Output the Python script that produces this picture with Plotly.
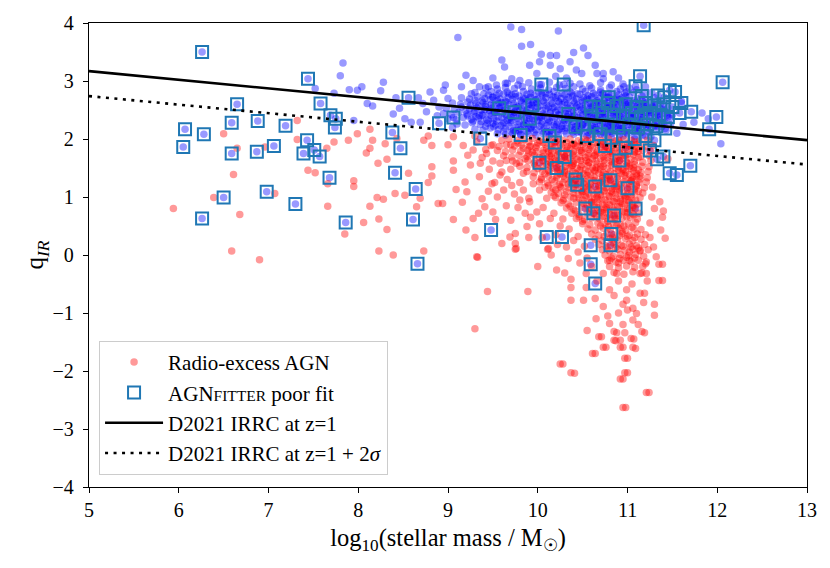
import plotly.graph_objects as go

# Radio-excess AGN (red), dense core read row by row, then extra layers for the saturated part
red_core = [
    (9.6,1.98),(9.68,2.0),(9.77,1.97),(9.85,1.99),(9.94,2.01),(10.02,1.97),(10.11,1.99),(10.19,2.01),(10.28,1.98),(10.36,2.0),(10.45,1.97),(10.53,1.99),(10.62,2.01),(10.7,1.98),(10.79,2.0),(10.87,1.97),(10.96,1.99),(11.04,1.98),(11.13,1.96),(11.22,1.98),
    (9.48,1.89),(9.57,1.87),(9.65,1.9),(9.74,1.88),(9.82,1.9),(9.91,1.87),(9.99,1.89),(10.08,1.91),(10.16,1.88),(10.25,1.9),(10.33,1.87),(10.42,1.89),(10.5,1.91),(10.59,1.88),(10.67,1.9),(10.76,1.87),(10.84,1.89),(10.93,1.91),(11.01,1.88),(11.1,1.9),(11.19,1.87),(11.29,1.89),
    (9.55,1.8),(9.64,1.78),(9.72,1.81),(9.81,1.79),(9.89,1.81),(9.98,1.78),(10.06,1.8),(10.15,1.82),(10.23,1.79),(10.32,1.81),(10.4,1.78),(10.49,1.8),(10.57,1.82),(10.66,1.79),(10.74,1.81),(10.83,1.78),(10.91,1.8),(11.0,1.82),(11.08,1.79),(11.17,1.81),(11.26,1.78),
    (9.62,1.71),(9.71,1.69),(9.79,1.72),(9.88,1.7),(9.96,1.72),(10.05,1.69),(10.13,1.71),(10.22,1.73),(10.3,1.7),(10.39,1.72),(10.47,1.69),(10.56,1.71),(10.64,1.73),(10.73,1.7),(10.81,1.72),(10.9,1.69),(10.98,1.71),(11.07,1.73),(11.15,1.7),(11.24,1.71),
    (9.72,1.62),(9.8,1.6),(9.89,1.63),(9.97,1.61),(10.06,1.63),(10.14,1.6),(10.23,1.62),(10.31,1.64),(10.4,1.61),(10.48,1.63),(10.57,1.6),(10.65,1.62),(10.74,1.64),(10.82,1.61),(10.91,1.63),(10.99,1.6),(11.08,1.62),(11.17,1.6),(11.26,1.63),
    (9.8,1.53),(9.88,1.51),(9.97,1.54),(10.05,1.52),(10.14,1.54),(10.22,1.51),(10.31,1.53),(10.39,1.55),(10.48,1.52),(10.56,1.54),(10.65,1.51),(10.73,1.53),(10.82,1.55),(10.9,1.52),(10.99,1.54),(11.07,1.51),(11.16,1.53),(11.24,1.52),
    (9.88,1.44),(9.96,1.42),(10.05,1.45),(10.13,1.43),(10.22,1.45),(10.3,1.42),(10.39,1.44),(10.47,1.46),(10.56,1.43),(10.64,1.45),(10.73,1.42),(10.81,1.44),(10.9,1.46),(10.98,1.43),(11.07,1.45),(11.15,1.42),(11.23,1.44),
    (9.95,1.35),(10.04,1.33),(10.12,1.36),(10.21,1.34),(10.29,1.36),(10.38,1.33),(10.46,1.35),(10.55,1.37),(10.63,1.34),(10.72,1.36),(10.8,1.33),(10.89,1.35),(10.97,1.37),(11.06,1.34),(11.14,1.36),(11.22,1.33),
    (10.02,1.26),(10.11,1.24),(10.19,1.27),(10.28,1.25),(10.36,1.27),(10.45,1.24),(10.53,1.26),(10.62,1.28),(10.7,1.25),(10.79,1.27),(10.87,1.24),(10.96,1.26),(11.04,1.28),(11.13,1.25),(11.21,1.26),
    (10.08,1.17),(10.17,1.15),(10.25,1.18),(10.34,1.16),(10.42,1.18),(10.51,1.15),(10.59,1.17),(10.68,1.19),(10.76,1.16),(10.85,1.18),(10.93,1.15),(11.02,1.17),(11.1,1.19),(11.19,1.16),
    (10.15,1.08),(10.23,1.06),(10.32,1.09),(10.4,1.07),(10.49,1.09),(10.57,1.06),(10.66,1.08),(10.74,1.1),(10.83,1.07),(10.91,1.09),(11.0,1.06),(11.08,1.08),(11.17,1.07),
    (10.2,0.99),(10.29,0.97),(10.37,1.0),(10.46,0.98),(10.54,1.0),(10.63,0.97),(10.71,0.99),(10.8,1.01),(10.88,0.98),(10.97,1.0),(11.05,0.97),(11.14,0.99),
    (10.26,0.9),(10.34,0.88),(10.43,0.91),(10.51,0.89),(10.6,0.91),(10.68,0.88),(10.77,0.9),(10.85,0.92),(10.94,0.89),(11.02,0.91),(11.11,0.88),
    (10.32,0.81),(10.4,0.79),(10.49,0.82),(10.57,0.8),(10.66,0.82),(10.74,0.79),(10.83,0.81),(10.91,0.83),(11.0,0.8),(11.08,0.82),
    (10.38,0.72),(10.46,0.7),(10.55,0.73),(10.63,0.71),(10.72,0.73),(10.8,0.7),(10.89,0.72),(10.97,0.74),(11.06,0.71),(11.13,0.72),
    (10.43,0.63),(10.52,0.61),(10.6,0.64),(10.69,0.62),(10.77,0.64),(10.86,0.61),(10.94,0.63),(11.03,0.65),(11.11,0.62),
    (10.5,0.54),(10.58,0.52),(10.67,0.55),(10.75,0.53),(10.84,0.55),(10.92,0.52),(11.01,0.54),(11.09,0.56),
    (10.56,0.45),(10.64,0.43),(10.73,0.46),(10.81,0.44),(10.9,0.46),(10.98,0.43),(11.07,0.45),(11.15,0.44),
    (10.6,0.36),(10.68,0.34),(10.77,0.37),(10.85,0.35),(10.94,0.37),(11.02,0.34),(11.11,0.36),(11.2,0.35),
    (10.64,0.27),(10.72,0.25),(10.81,0.28),(10.89,0.26),(10.98,0.28),(11.06,0.25),(11.15,0.27),
    (10.68,0.18),(10.76,0.16),(10.85,0.19),(10.93,0.17),(11.02,0.19),(11.1,0.16),(11.19,0.18),
    (10.72,0.09),(10.8,0.07),(10.89,0.1),(10.97,0.08),(11.06,0.1),(11.14,0.07),(11.23,0.09),
    (10.75,0.0),(10.84,-0.02),(10.92,0.01),(11.01,-0.01),(11.09,0.01),(11.18,-0.02),
    (10.78,-0.1),(10.87,-0.12),(10.95,-0.09),(11.04,-0.11),(11.12,-0.09),(11.21,-0.12),
    (10.8,-0.2),(10.9,-0.22),(10.99,-0.19),(11.08,-0.21),(11.17,-0.2),
    (10.85,-0.3),(10.96,-0.33),(11.06,-0.29),(11.16,-0.31),
]
red_core_2 = [
    (10.06,1.94),(10.15,1.93),(10.23,1.95),(10.32,1.94),(10.4,1.92),(10.49,1.95),(10.57,1.93),(10.66,1.94),(10.74,1.95),(10.83,1.93),(10.91,1.94),(11.0,1.92),(11.08,1.95),
    (9.98,1.85),(10.1,1.84),(10.19,1.86),(10.27,1.85),(10.36,1.83),(10.44,1.86),(10.53,1.84),(10.61,1.85),(10.7,1.86),(10.78,1.84),(10.87,1.85),(10.95,1.83),(11.04,1.86),(11.12,1.84),
    (10.06,1.76),(10.15,1.75),(10.23,1.77),(10.32,1.76),(10.4,1.74),(10.49,1.77),(10.57,1.75),(10.66,1.76),(10.74,1.77),(10.83,1.75),(10.91,1.76),(11.0,1.74),(11.08,1.77),
    (10.1,1.67),(10.19,1.66),(10.27,1.68),(10.36,1.67),(10.44,1.65),(10.53,1.68),(10.61,1.66),(10.7,1.67),(10.78,1.68),(10.87,1.66),(10.95,1.67),(11.04,1.65),(11.12,1.68),
    (10.15,1.58),(10.23,1.57),(10.32,1.59),(10.4,1.58),(10.49,1.56),(10.57,1.59),(10.66,1.57),(10.74,1.58),(10.83,1.59),(10.91,1.57),(11.0,1.58),(11.08,1.56),
    (10.19,1.49),(10.27,1.48),(10.36,1.5),(10.44,1.49),(10.53,1.47),(10.61,1.5),(10.7,1.48),(10.78,1.49),(10.87,1.5),(10.95,1.48),(11.04,1.49),(11.12,1.47),
    (10.25,1.4),(10.34,1.39),(10.42,1.41),(10.51,1.4),(10.59,1.38),(10.68,1.41),(10.76,1.39),(10.85,1.4),(10.93,1.41),(11.02,1.39),(11.1,1.4),
    (10.3,1.31),(10.38,1.3),(10.47,1.32),(10.55,1.31),(10.64,1.29),(10.72,1.32),(10.81,1.3),(10.89,1.31),(10.98,1.32),(11.06,1.3),(11.14,1.31),
    (10.34,1.22),(10.42,1.21),(10.51,1.23),(10.59,1.22),(10.68,1.2),(10.76,1.23),(10.85,1.21),(10.93,1.22),(11.02,1.23),(11.1,1.21),
    (10.4,1.13),(10.49,1.12),(10.57,1.14),(10.66,1.13),(10.74,1.11),(10.83,1.14),(10.91,1.12),(11.0,1.13),(11.08,1.14),
    (10.45,1.04),(10.53,1.03),(10.62,1.05),(10.7,1.04),(10.79,1.02),(10.87,1.05),(10.96,1.03),(11.04,1.04),
    (10.5,0.95),(10.58,0.94),(10.67,0.96),(10.75,0.95),(10.84,0.93),(10.92,0.96),(11.01,0.94),(11.09,0.95),
    (10.55,0.86),(10.63,0.85),(10.72,0.87),(10.8,0.86),(10.89,0.84),(10.97,0.87),(11.06,0.85),
    (10.6,0.77),(10.68,0.76),(10.77,0.78),(10.85,0.77),(10.94,0.75),(11.02,0.78),
    (10.65,0.68),(10.73,0.67),(10.82,0.69),(10.9,0.68),(10.99,0.66),(11.07,0.69),
    (10.7,0.5),(10.79,0.49),(10.88,0.51),(10.96,0.5),(11.05,0.48),
    (10.74,0.32),(10.83,0.31),(10.91,0.33),(11.0,0.32),(11.08,0.3),
    (10.78,0.14),(10.87,0.13),(10.95,0.15),(11.04,0.14),(11.12,0.12),
    (10.82,-0.05),(10.91,-0.06),(10.99,-0.04),(11.08,-0.05),
]
red_core_3 = [
    (10.2,1.96),(10.38,1.9),(10.55,1.97),(10.72,1.91),(10.9,1.98),(11.05,1.9),
    (10.12,1.79),(10.3,1.72),(10.47,1.8),(10.63,1.71),(10.8,1.79),(10.97,1.72),(11.12,1.79),
    (10.2,1.62),(10.38,1.54),(10.54,1.63),(10.7,1.53),(10.86,1.62),(11.02,1.53),
    (10.3,1.45),(10.47,1.37),(10.63,1.46),(10.79,1.36),(10.95,1.45),(11.1,1.36),
    (10.4,1.27),(10.56,1.18),(10.72,1.28),(10.88,1.18),(11.04,1.27),
    (10.5,1.09),(10.66,1.0),(10.82,1.1),(10.98,1.0),(11.12,1.1),
    (10.6,0.91),(10.76,0.82),(10.92,0.92),(11.06,0.82),
    (10.7,0.74),(10.86,0.64),(11.0,0.73),
    (10.78,0.58),(10.94,0.4),(10.84,0.22),(11.02,0.05),(10.9,-0.14),
]
red_core_4 = [
    (9.78,1.93),(9.9,1.95),(9.84,1.84),(9.94,1.77),(9.86,1.66),(9.96,1.58),(10.02,1.68),(10.0,1.49),
    (10.08,1.4),(10.1,1.56),(10.04,1.3),(10.16,1.3),(10.12,1.2),(10.2,1.12),(10.24,1.22),(10.18,1.02),
    (10.28,0.94),(10.3,1.04),(10.36,0.84),(10.42,0.76),(10.4,0.98),(10.46,0.66),(10.5,0.58),(10.26,1.16),
    (10.12,1.46),(10.22,1.38),(10.05,1.62),(10.15,1.7),(9.92,1.88),(10.0,1.93),
]
red_left = [
    (9.32,1.95),(9.42,1.82),(9.38,1.68),(9.5,1.62),(9.46,1.48),(9.58,1.38),(9.52,1.25),(9.66,1.3),(9.62,1.12),
    (9.74,1.05),(9.8,1.25),(9.7,1.48),(9.84,1.12),(9.9,0.98),(9.78,0.82),(9.92,0.65),(10.06,0.82),(10.1,0.98),
    (10.18,0.72),(10.28,0.62),(10.35,0.45),(10.22,0.18),(10.45,0.32),(10.52,0.15),(9.25,1.55),(9.22,1.72),
]
red_sparse = [
    (7.32,2.32),(6.50,2.09),(6.65,1.84),(6.61,1.39),(6.96,1.86),(7.44,1.46),(7.52,1.42),(7.65,1.84),(7.73,1.95),(7.89,1.98),
    (7.99,2.09),(8.13,2.17),(8.16,1.98),(8.13,1.84),(8.09,1.76),(8.22,1.58),(8.32,1.65),(8.30,1.92),(7.95,1.28),(7.95,1.18),
    (7.66,1.23),(7.07,1.06),(6.39,0.99),(5.94,0.80),(6.68,0.70),(7.66,0.84),(8.13,0.84),(8.21,0.99),(8.28,0.96),(8.41,1.06),
    (8.52,1.03),(8.56,1.41),(8.65,0.83),(8.06,0.56),(8.23,0.62),(8.32,0.44),(7.85,0.36),(6.59,0.07),(6.90,-0.08),(8.23,0.07),
    (8.39,0.00),(8.73,0.07),(8.82,1.52),(8.82,1.36),(8.78,1.25),(8.89,0.89),(8.69,0.98),(8.73,1.98),(8.78,2.05),(8.82,1.89),
    (8.43,2.01),(7.32,1.99),
    (9.33,-0.04),(9.44,-0.63),(9.89,-0.63),(9.30,-1.27),(9.75,0.20),(9.75,0.10),(10.11,0.10),(10.15,0.00),(10.21,-0.26),(10.30,-0.31),
    (10.37,-0.42),(10.37,-0.56),(10.37,-0.78),(10.51,-0.78),(10.64,-0.75),(10.54,-0.56),(10.73,-0.89),(10.68,-1.41),(10.61,-1.70),(10.73,-1.59),
    (10.25,-1.88),(10.37,-2.03),(10.85,-1.32),(10.85,-1.47),(10.90,-1.00),(10.80,-1.18),(10.92,-1.47),(10.92,-1.59),(11.04,-1.44),(11.06,-1.59),
    (10.97,-1.78),(10.97,-2.03),(10.92,-2.14),(11.21,-2.37),(10.95,-2.63),(11.16,-1.32),(11.30,-0.85),(11.30,-1.04),(11.18,-0.82),(11.06,-1.12),
    (11.10,-1.01),(11.14,-0.66),(11.19,-0.66),(11.35,-0.44),(11.35,-0.16),(11.32,-0.03),(10.99,-0.78),(11.06,-0.92),(10.80,-0.60),(10.99,-0.60),
    (10.88,-0.32),(11.14,-0.32),(11.21,-0.32),(10.73,-0.32),(10.80,-0.09),(11.02,-0.09),(11.14,0.08),(11.29,0.14),(10.47,-0.14),(10.54,-0.32),
    (10.71,-1.41),(10.88,-1.34),(10.97,-1.34),(11.19,-1.34),(10.87,-1.48),(10.76,-1.59),(10.95,-1.59),(11.07,-1.45),(11.09,-1.61),(10.64,-1.70),
    (11.00,-1.78),(10.28,-1.88),(10.41,-2.04),(11.00,-2.03),(10.95,-2.14),(11.24,-2.37),(10.98,-2.63),
    (11.36,0.92),(11.40,0.76),(11.39,0.65),(11.37,0.43),(11.42,0.29),(11.39,-0.16),(11.39,-0.44),(11.28,1.17),(11.27,1.00),(11.45,1.66),
    (9.06,2.04),(9.06,1.62),(9.06,1.46),(9.19,1.26),(9.09,1.13),(9.21,1.09),(8.94,0.89),(9.16,0.91),(9.06,0.61),(9.20,0.43),
    (9.30,0.30),(9.32,-0.03),(9.38,0.97),(9.41,0.83),(9.34,0.72),(9.28,0.63),(9.50,0.74),(9.53,0.61),(9.49,1.23),(9.60,1.43),
    (9.58,1.58),(9.36,1.58),(9.28,1.81),(9.17,1.89),(9.43,1.75),(9.65,1.63),(9.71,1.20),(9.80,0.95),(9.75,0.37),(9.69,0.31),
    (9.76,0.11),(9.88,0.49),(9.86,0.72),(9.99,0.74),(9.91,0.92),(10.02,0.54),(10.14,0.63),(10.12,0.11),(10.32,0.14),(10.34,-0.06),
    (9.84,1.41),(9.76,1.58),(9.95,1.23),(10.02,1.12),(9.90,1.75),
    (10.2,0.35),(10.25,0.5),(10.4,0.25),(10.45,0.05),(10.55,-0.05),(10.6,-0.2),(10.66,-0.45),(10.9,-0.45),(11.05,-0.5),(11.2,-0.15),
    (11.25,0.3),(11.25,0.55),(11.3,0.8),(11.22,-0.45),(10.95,-0.85),(10.85,-0.7),(10.78,-1.05),(11.12,-1.2),(10.65,-1.1),(10.55,-1.3),
    (10.95,-1.2),(11.0,-0.95),(9.6,0.2),(9.9,0.3),(10.05,0.3),(10.0,-0.2),(9.55,1.0),(9.65,0.85),(9.7,0.6),(9.45,1.1),
    (9.35,1.35),(9.5,1.9),(9.7,1.9),(9.3,2.05),(9.0,1.9),
]

# remaining sources (blue, no legend entry)
blue_core = [
    (9.66,2.96),(9.78,2.93),(9.9,2.97),(10.02,2.94),(10.13,2.98),(10.24,2.93),(10.36,2.96),(10.47,2.95),(10.58,2.92),(10.7,2.97),(10.82,2.93),
    (9.42,2.88),(9.55,2.86),(9.64,2.89),(9.74,2.87),(9.83,2.9),(9.93,2.86),(10.03,2.88),(10.12,2.85),(10.21,2.89),(10.31,2.87),(10.4,2.9),(10.5,2.86),(10.6,2.88),(10.7,2.85),(10.8,2.89),(10.92,2.86),(11.02,2.88),
    (9.3,2.8),(9.4,2.78),(9.48,2.82),(9.57,2.79),(9.66,2.81),(9.75,2.78),(9.84,2.82),(9.92,2.79),(10.01,2.81),(10.09,2.78),(10.18,2.82),(10.27,2.79),(10.36,2.81),(10.44,2.78),(10.53,2.82),(10.62,2.79),(10.7,2.81),(10.79,2.78),(10.88,2.82),(10.97,2.79),(11.07,2.8),(11.18,2.78),
    (9.15,2.71),(9.24,2.69),(9.33,2.73),(9.41,2.7),(9.5,2.72),(9.58,2.69),(9.67,2.71),(9.75,2.73),(9.84,2.7),(9.92,2.72),(10.0,2.69),(10.09,2.71),(10.17,2.73),(10.26,2.7),(10.34,2.72),(10.43,2.69),(10.51,2.71),(10.6,2.73),(10.68,2.7),(10.77,2.72),(10.85,2.69),(10.94,2.71),(11.02,2.73),(11.11,2.7),(11.2,2.68),(11.3,2.71),
    (9.05,2.62),(9.14,2.6),(9.22,2.64),(9.31,2.61),(9.39,2.63),(9.48,2.6),(9.56,2.62),(9.65,2.64),(9.73,2.61),(9.82,2.63),(9.9,2.6),(9.99,2.62),(10.07,2.64),(10.16,2.61),(10.24,2.63),(10.33,2.6),(10.41,2.62),(10.5,2.64),(10.58,2.61),(10.67,2.63),(10.75,2.6),(10.84,2.62),(10.92,2.64),(11.01,2.61),(11.09,2.63),(11.18,2.6),(11.27,2.62),(11.37,2.61),
    (8.98,2.53),(9.07,2.51),(9.15,2.55),(9.24,2.52),(9.32,2.54),(9.41,2.51),(9.49,2.53),(9.58,2.55),(9.66,2.52),(9.75,2.54),(9.83,2.51),(9.92,2.53),(10.0,2.55),(10.09,2.52),(10.17,2.54),(10.26,2.51),(10.34,2.53),(10.43,2.55),(10.51,2.52),(10.6,2.54),(10.68,2.51),(10.77,2.53),(10.85,2.55),(10.94,2.52),(11.02,2.54),(11.11,2.51),(11.19,2.53),(11.28,2.55),(11.37,2.52),(11.45,2.54),
    (8.95,2.44),(9.04,2.42),(9.12,2.46),(9.21,2.43),(9.29,2.45),(9.38,2.42),(9.46,2.44),(9.55,2.46),(9.63,2.43),(9.72,2.45),(9.8,2.42),(9.89,2.44),(9.97,2.46),(10.06,2.43),(10.14,2.45),(10.23,2.42),(10.31,2.44),(10.4,2.46),(10.48,2.43),(10.57,2.45),(10.65,2.42),(10.74,2.44),(10.82,2.46),(10.91,2.43),(10.99,2.45),(11.08,2.42),(11.16,2.44),(11.25,2.46),(11.33,2.43),(11.42,2.45),(11.5,2.42),
    (9.0,2.35),(9.09,2.33),(9.17,2.37),(9.26,2.34),(9.34,2.36),(9.43,2.33),(9.51,2.35),(9.6,2.37),(9.68,2.34),(9.77,2.36),(9.85,2.33),(9.94,2.35),(10.02,2.37),(10.11,2.34),(10.19,2.36),(10.28,2.33),(10.36,2.35),(10.45,2.37),(10.53,2.34),(10.62,2.36),(10.7,2.33),(10.79,2.35),(10.87,2.37),(10.96,2.34),(11.04,2.36),(11.13,2.33),(11.21,2.35),(11.3,2.37),(11.38,2.34),(11.47,2.36),
    (9.1,2.26),(9.19,2.24),(9.27,2.28),(9.36,2.25),(9.44,2.27),(9.53,2.24),(9.61,2.26),(9.7,2.28),(9.78,2.25),(9.87,2.27),(9.95,2.24),(10.04,2.26),(10.12,2.28),(10.21,2.25),(10.29,2.27),(10.38,2.24),(10.46,2.26),(10.55,2.28),(10.63,2.25),(10.72,2.27),(10.8,2.24),(10.89,2.26),(10.97,2.28),(11.06,2.25),(11.14,2.27),(11.23,2.24),(11.31,2.26),(11.4,2.28),(11.48,2.25),
    (9.3,2.17),(9.39,2.15),(9.47,2.19),(9.56,2.16),(9.64,2.18),(9.73,2.15),(9.81,2.17),(9.9,2.19),(9.98,2.16),(10.07,2.18),(10.15,2.15),(10.24,2.17),(10.32,2.19),(10.41,2.16),(10.49,2.18),(10.58,2.15),(10.66,2.17),(10.75,2.19),(10.83,2.16),(10.92,2.18),(11.0,2.15),(11.09,2.17),(11.17,2.19),(11.26,2.16),(11.34,2.18),(11.43,2.15),
    (9.55,2.09),(9.64,2.07),(9.72,2.1),(9.81,2.08),(9.89,2.1),(9.98,2.07),(10.06,2.09),(10.15,2.1),(10.23,2.07),(10.32,2.09),(10.4,2.08),(10.49,2.1),(10.57,2.07),(10.66,2.09),(10.74,2.08),(10.83,2.1),(10.91,2.07),(11.0,2.09),(11.08,2.05),(11.17,2.07),(11.26,2.04),
]
blue_core_2 = [
    (9.45,2.76),(9.54,2.75),(9.62,2.77),(9.71,2.76),(9.79,2.74),(9.88,2.77),(9.96,2.75),(10.05,2.76),(10.13,2.77),(10.22,2.75),(10.3,2.76),(10.39,2.74),(10.47,2.77),(10.56,2.75),(10.64,2.76),(10.73,2.77),(10.81,2.75),(10.9,2.76),(10.98,2.74),
    (9.3,2.67),(9.38,2.66),(9.47,2.68),(9.55,2.67),(9.64,2.65),(9.72,2.68),(9.81,2.66),(9.89,2.67),(9.98,2.68),(10.06,2.66),(10.15,2.67),(10.23,2.65),(10.32,2.68),(10.4,2.66),(10.49,2.67),(10.57,2.68),(10.66,2.66),(10.74,2.67),(10.83,2.65),(10.91,2.68),(11.0,2.66),(11.08,2.67),(11.17,2.65),
    (9.25,2.58),(9.34,2.57),(9.42,2.59),(9.51,2.58),(9.59,2.56),(9.68,2.59),(9.76,2.57),(9.85,2.58),(9.93,2.59),(10.02,2.57),(10.1,2.58),(10.19,2.56),(10.27,2.59),(10.36,2.57),(10.44,2.58),(10.53,2.59),(10.61,2.57),(10.7,2.58),(10.78,2.56),(10.87,2.59),(10.95,2.57),(11.04,2.58),(11.12,2.59),(11.21,2.57),(11.3,2.58),
    (9.2,2.49),(9.29,2.48),(9.37,2.5),(9.46,2.49),(9.54,2.47),(9.63,2.5),(9.71,2.48),(9.8,2.49),(9.88,2.5),(9.97,2.48),(10.05,2.49),(10.14,2.47),(10.22,2.5),(10.31,2.48),(10.39,2.49),(10.48,2.5),(10.56,2.48),(10.65,2.49),(10.73,2.47),(10.82,2.5),(10.9,2.48),(10.99,2.49),(11.07,2.5),(11.16,2.48),(11.24,2.49),(11.33,2.47),(11.41,2.5),
    (9.22,2.4),(9.31,2.39),(9.39,2.41),(9.48,2.4),(9.56,2.38),(9.65,2.41),(9.73,2.39),(9.82,2.4),(9.9,2.41),(9.99,2.39),(10.07,2.4),(10.16,2.38),(10.24,2.41),(10.33,2.39),(10.41,2.4),(10.5,2.41),(10.58,2.39),(10.67,2.4),(10.75,2.38),(10.84,2.41),(10.92,2.39),(11.01,2.4),(11.09,2.41),(11.18,2.39),(11.26,2.4),(11.35,2.38),(11.44,2.41),
    (9.28,2.31),(9.37,2.3),(9.45,2.32),(9.54,2.31),(9.62,2.29),(9.71,2.32),(9.79,2.3),(9.88,2.31),(9.96,2.32),(10.05,2.3),(10.13,2.31),(10.22,2.29),(10.3,2.32),(10.39,2.3),(10.47,2.31),(10.56,2.32),(10.64,2.3),(10.73,2.31),(10.81,2.29),(10.9,2.32),(10.98,2.3),(11.07,2.31),(11.15,2.32),(11.24,2.3),(11.32,2.31),(11.41,2.29),
    (9.42,2.22),(9.51,2.21),(9.59,2.23),(9.68,2.22),(9.76,2.2),(9.85,2.23),(9.93,2.21),(10.02,2.22),(10.1,2.23),(10.19,2.21),(10.27,2.22),(10.36,2.2),(10.44,2.23),(10.53,2.21),(10.61,2.22),(10.7,2.23),(10.78,2.21),(10.87,2.22),(10.95,2.2),(11.04,2.23),(11.12,2.21),(11.21,2.22),(11.3,2.23),(11.38,2.21),
    (9.62,2.13),(9.71,2.12),(9.79,2.14),(9.88,2.13),(9.96,2.11),(10.05,2.14),(10.13,2.12),(10.22,2.13),(10.3,2.14),(10.39,2.12),(10.47,2.13),(10.56,2.11),(10.64,2.14),(10.73,2.12),(10.81,2.13),(10.9,2.14),(10.98,2.12),(11.07,2.13),(11.15,2.11),(11.24,2.12),
]
blue_core_3 = [
    (9.5,2.72),(9.68,2.78),(9.86,2.7),(10.04,2.79),(10.2,2.71),(10.38,2.78),(10.55,2.7),(10.72,2.78),(10.88,2.7),
    (9.42,2.56),(9.6,2.63),(9.78,2.55),(9.95,2.63),(10.12,2.55),(10.3,2.63),(10.47,2.55),(10.64,2.63),(10.8,2.55),(10.97,2.63),(11.14,2.55),
    (9.35,2.41),(9.52,2.46),(9.7,2.38),(9.87,2.46),(10.04,2.38),(10.2,2.46),(10.38,2.38),(10.54,2.46),(10.72,2.38),(10.88,2.46),(11.05,2.38),(11.2,2.46),
    (9.5,2.27),(9.66,2.32),(9.84,2.24),(10.0,2.32),(10.18,2.24),(10.34,2.32),(10.5,2.24),(10.68,2.32),(10.84,2.24),(11.0,2.32),(11.18,2.24),
    (9.75,2.14),(9.92,2.18),(10.1,2.12),(10.27,2.18),(10.44,2.12),(10.6,2.18),(10.78,2.12),(10.95,2.18),(11.12,2.14),
]
blue_sparse = [
    (9.70,3.93),(9.82,3.89),(10.23,3.86),(9.11,3.75),(9.82,3.60),(9.92,3.63),(9.60,3.36),(9.63,3.24),(10.04,3.46),(10.14,3.44),
    (10.21,3.44),(10.40,3.49),(10.51,3.57),(10.56,3.44),(10.64,3.27),(9.91,3.27),(10.02,3.33),(10.14,3.27),(10.25,3.21),(10.36,3.33),
    (10.43,3.19),(10.49,3.13),(10.66,3.13),(10.73,3.04),(10.84,3.16),(9.99,3.13),(9.71,3.04),(9.28,3.01),(8.97,2.93),(8.95,2.84),
    (9.26,2.78),(9.45,2.9),(9.54,2.93),(9.64,2.96),(9.80,3.01),(10.2,3.08),(10.32,3.05),(10.9,3.05),(10.95,2.95),(11.1,2.85),
    (11.2,2.9),(11.27,2.8),(10.73,3.13),(10.96,2.9),(10.99,2.81),(11.83,2.45),(11.90,2.35),(11.74,2.29),(12.04,1.92),(11.6,2.65),
    (11.62,2.25),(11.55,2.1),
    (7.83,3.31),(7.80,3.09),(7.90,2.85),(7.99,2.84),(8.04,2.90),(8.28,2.98),(8.25,2.83),(8.10,2.61),(8.16,2.57),(8.39,2.43),
    (8.46,2.53),(8.52,2.35),(8.59,2.29),(8.69,2.29),(8.76,2.47),(8.80,2.81),(8.84,2.67),(7.95,2.32),(7.73,2.79),(7.52,2.87),
    (8.42,2.71),(8.67,2.71),(8.72,2.61),(8.9,2.55),(8.88,2.4),(9.0,2.7),(9.05,2.2),(9.15,2.9),(9.35,2.9),(9.5,3.05),(9.2,3.1),
]

# AGNfitter poor fits (open squares)
poor_fit = [
    (6.26,3.50),(7.44,3.04),(8.56,2.71),(6.65,2.60),(7.58,2.61),(7.69,2.41),(7.75,2.35),(7.74,2.20),(6.07,2.17),(6.59,2.28),
    (6.88,2.31),(7.19,2.23),(6.28,2.08),(6.05,1.86),(6.59,1.75),(6.87,1.78),(7.06,1.88),(7.43,1.98),(7.39,1.75),(7.51,1.81),
    (7.57,1.70),(8.38,2.11),(8.47,1.84),(8.90,2.27),(7.68,1.33),(8.41,1.42),(8.64,1.14),(6.98,1.09),(6.50,0.99),(7.30,0.88),
    (6.26,0.63),(7.86,0.56),(8.61,0.61),(8.66,-0.15),(9.48,0.43),
    (11.18,3.96),(11.14,3.08),(12.06,2.98),(10.04,2.94),(10.29,2.94),(10.79,2.72),(11.53,2.81),(11.41,2.72),(11.99,2.38),(11.91,2.17),
    (11.71,2.47),(9.06,2.37),(9.36,2.01),(9.57,2.53),(9.74,2.46),(9.94,2.58),(9.91,2.35),(9.81,2.07),(10.13,2.05),(10.19,1.94),
    (10.34,2.43),(10.42,2.21),(10.59,2.56),(10.02,1.59),(10.21,1.50),(10.30,1.69),(10.42,1.30),(10.44,1.21),(10.64,1.18),(10.81,1.29),
    (11.00,1.15),(10.91,1.63),(11.70,1.54),(11.47,1.41),(11.55,1.38),(10.53,0.80),(10.62,0.72),(10.85,0.68),(11.09,0.80),(10.10,0.31),
    (10.27,0.31),(10.59,0.17),(10.82,0.36),(10.81,0.17),(10.59,-0.16),(10.64,-0.49),
    (10.68,2.55),(10.78,2.62),(10.88,2.57),(10.98,2.6),(11.1,2.55),(11.2,2.62),(11.3,2.58),(11.4,2.6),(11.5,2.55),(11.6,2.62),
    (10.6,2.4),(10.72,2.45),(10.85,2.42),(10.95,2.4),(11.05,2.45),(11.15,2.38),(11.25,2.45),(11.35,2.42),(11.45,2.38),(11.58,2.45),
    (10.5,2.25),(10.65,2.2),(10.78,2.25),(10.9,2.2),(11.02,2.25),(11.12,2.2),(11.22,2.25),(11.32,2.22),(11.42,2.18),
    (10.55,2.05),(10.7,2.08),(10.82,2.02),(10.95,2.05),(11.08,2.0),(11.2,2.05),(11.3,1.98),
    (10.75,1.88),(10.98,1.85),(11.25,1.8),(11.33,1.65),(11.4,1.7),(11.16,2.74),(11.34,2.75),(11.47,2.84),(11.09,2.91),
]

# D2021 IRRC at z=1 and the +2 sigma offset line (end points)
irrc_mass = [5, 13]
irrc_q = [3.17, 1.98]
irrc_2sig_q = [2.74, 1.56]

FONT = "'Times New Roman', 'Liberation Serif', 'DejaVu Serif', serif"
RED = "rgba(255,0,0,0.4)"
BLUE = "rgba(0,0,255,0.4)"
SQ = "#1f77b4"


def xs(pts):
    return [p[0] for p in pts]


def ys(pts):
    return [p[1] for p in pts]


blue_all = blue_core + blue_core_2 + blue_core_3 + blue_sparse + poor_fit
red_all = red_core + red_core_2 + red_core_3 + red_core_4 + red_left + red_sparse

fig = go.Figure()
fig.add_trace(go.Scatter(
    x=xs(blue_all), y=ys(blue_all), mode="markers", showlegend=False, hoverinfo="skip",
    marker=dict(size=7.5, color=BLUE, line=dict(width=0)),
))
fig.add_trace(go.Scatter(
    x=xs(red_all), y=ys(red_all), mode="markers", name="Radio-excess AGN", legendgroup="a",
    hoverinfo="skip",
    marker=dict(size=7.5, color=RED, line=dict(width=0)),
))
fig.add_trace(go.Scatter(
    x=xs(poor_fit), y=ys(poor_fit), mode="markers", legendgroup="b",
    name="AGN<span style='font-size:15.5px'>FITTER</span> poor fit", hoverinfo="skip",
    marker=dict(symbol="square-open", size=12, color=SQ, line=dict(width=2, color=SQ)),
))
fig.add_trace(go.Scatter(
    x=irrc_mass, y=irrc_q, mode="lines", name="D2021 IRRC at z=1", legendgroup="c",
    line=dict(color="black", width=2.6), hoverinfo="skip",
))
fig.add_trace(go.Scatter(
    x=irrc_mass, y=irrc_2sig_q, mode="lines", name="D2021 IRRC at z=1 + 2<i>σ</i>", legendgroup="d",
    line=dict(color="black", width=2.6, dash="3px,5.5px"), hoverinfo="skip",
))

axis_style = dict(
    showline=True, linecolor="black", linewidth=1.3, mirror=True,
    ticks="outside", ticklen=5, tickwidth=1.2, tickcolor="black",
    showgrid=False, zeroline=False, automargin=False,
    tickfont=dict(family=FONT, size=20, color="black"),
)
fig.update_xaxes(range=[5, 13], tickvals=list(range(5, 14)), **axis_style, ticklabelstandoff=0,
                 title=dict(text="log<sub>10</sub>(stellar mass / M<sub>☉</sub>)",
                            font=dict(family=FONT, size=24.5, color="black"), standoff=8))
fig.update_yaxes(range=[-4, 4], tickvals=list(range(-4, 5)), **axis_style, ticklabelstandoff=5,
                 title=dict(text="q<sub><i>IR</i></sub>",
                            font=dict(family=FONT, size=25, color="black"), standoff=1))

# the page adds an 8 px body margin, so the figure is sized to fit the 830x568 window
fig.update_layout(
    width=814, height=552,
    margin=dict(l=81, r=15, t=15, b=73),
    plot_bgcolor="white", paper_bgcolor="white",
    font=dict(family=FONT, color="black"),
    legend=dict(
        x=0.014, y=0.026, xanchor="left", yanchor="bottom",
        bgcolor="rgba(255,255,255,0.85)", bordercolor="#cccccc", borderwidth=1,
        font=dict(family=FONT, size=21, color="black"),
        itemwidth=58, tracegroupgap=0,
    ),
)

fig.write_html("out.html")
